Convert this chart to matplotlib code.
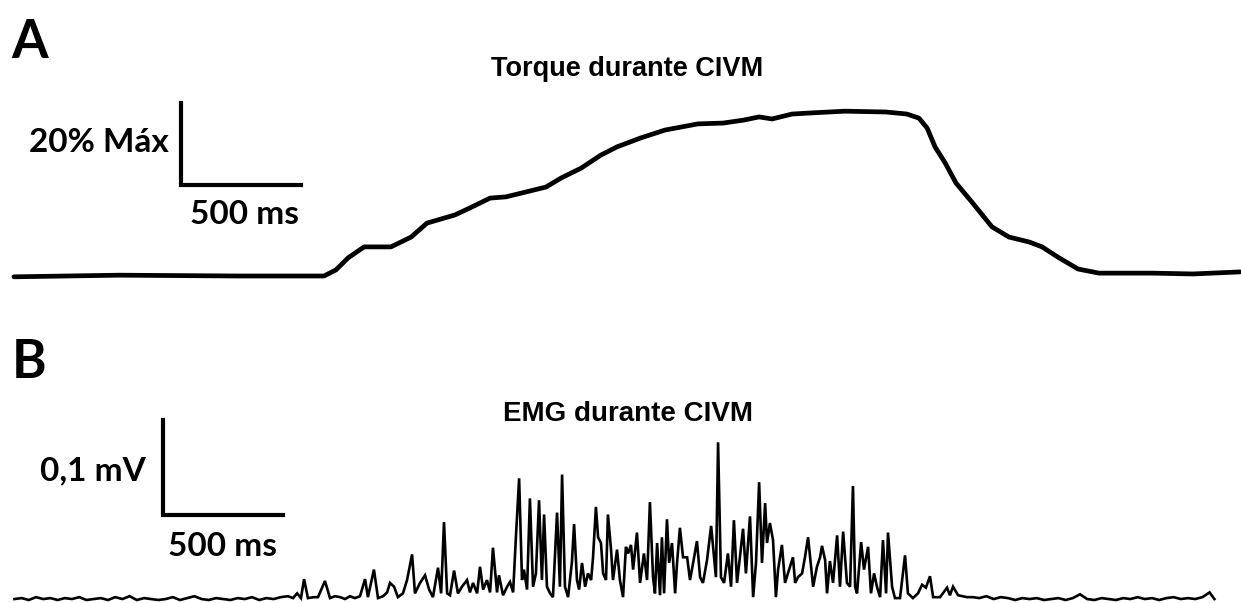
"""Torque and EMG traces during a maximal isometric contraction (CIVM)."""

import matplotlib
matplotlib.use("Agg")
import matplotlib.pyplot as plt

W, H = 1241, 603
MS_PER_PX = 500 / 120          # 500 ms scale bar spans 120 px
PCT_PER_PX = 20 / 82           # 20 % scale bar spans 82 px
UV_PER_PX = 100 / 95           # 0,1 mV scale bar spans 95 px

# torque trace (ms, % of max)
torque_t = [58, 496, 988, 1350, 1400, 1450, 1517, 1629, 1713, 1779, 1896, 1958,
            2042, 2108, 2192, 2275, 2338, 2421, 2504, 2571, 2671, 2771, 2908,
            3013, 3096, 3163, 3217, 3300, 3388, 3521, 3692, 3779, 3829, 3863,
            3896, 3938, 3983, 4050, 4133, 4204, 4288, 4342, 4408, 4492, 4579,
            4800, 4971, 5167]
torque_pct = [-0.2, 0.2, 0.0, 0.0, 1.5, 4.4, 7.1, 7.1, 9.5, 12.9, 14.9, 16.6,
              19.0, 19.3, 20.5, 21.7, 23.9, 26.3, 29.5, 31.5, 33.7, 35.6, 37.1,
              37.3, 38.0, 38.8, 38.3, 39.5, 39.8, 40.2, 40.0, 39.5, 38.5, 36.1,
              31.5, 27.6, 22.7, 18.0, 12.0, 9.5, 8.3, 7.1, 4.6, 1.7, 0.7,
              0.7, 0.5, 1.0]

# EMG trace (ms, microvolts)
emg_rest_pre_t = [60, 90, 120, 150, 180, 210, 240, 270, 300, 330, 360, 390, 420,
                  450, 480, 510, 540, 570, 600, 630, 660, 690, 720, 750, 780,
                  810, 840, 870, 900, 930, 960, 990, 1020, 1050, 1080, 1110,
                  1140, 1170, 1200]
emg_rest_pre_uv = [1, 2, 0, 3, 1, 2, 0, 2, 1, 3, 0, 1, 2, 0, 3, 1, 4, 0, 2, 1,
                   0, 1, 3, 0, 2, 4, 1, 0, 2, 1, 0, 2, 1, 3, 0, 2, 1, 3, 4]

emg_active_t = [1221, 1238, 1254, 1267, 1283, 1308, 1325, 1354, 1375, 1396, 1417,
                1438, 1458, 1479, 1500, 1521, 1533, 1558, 1575, 1596, 1613, 1625,
                1642, 1658, 1679, 1696, 1717, 1729, 1750, 1771, 1788, 1804, 1825,
                1838, 1850, 1863, 1875, 1892, 1908, 1925, 1946, 1958, 1971, 1988,
                2000, 2013, 2029, 2042, 2054, 2071, 2079, 2096, 2113, 2125, 2138,
                2150, 2163, 2175, 2183, 2196, 2208, 2221, 2233, 2246, 2258, 2267,
                2279, 2292, 2304, 2321, 2333, 2342, 2354, 2367, 2383, 2392, 2404,
                2413, 2425, 2438, 2450, 2463, 2471, 2483, 2492, 2504, 2513, 2525,
                2533, 2546, 2554, 2571, 2583, 2596, 2608, 2617, 2629, 2638, 2654,
                2667, 2683, 2696, 2708, 2721, 2729, 2738, 2750, 2758, 2767, 2779,
                2788, 2800, 2813, 2821, 2833, 2846, 2863, 2875, 2888, 2904, 2917,
                2929, 2946, 2963, 2971, 2983, 2992, 3004, 3017, 3033, 3046, 3058,
                3071, 3083, 3096, 3108, 3125, 3138, 3150, 3163, 3175, 3188, 3196,
                3208, 3221, 3233, 3242, 3258, 3271, 3283, 3304, 3313, 3325, 3342,
                3354, 3367, 3388, 3404, 3417, 3425, 3438, 3446, 3458, 3471, 3488,
                3500, 3513, 3529, 3542, 3554, 3563, 3571, 3588, 3600, 3617, 3629,
                3642, 3654, 3667, 3679, 3692, 3700, 3717, 3729, 3750, 3771, 3783,
                3804, 3825, 3842, 3858, 3875, 3888, 3917, 3946, 3958, 3971, 3992,
                4029, 4054]
emg_active_uv = [2, 7, 2, 22, 2, 3, 3, 20, 2, 4, 3,
                 1, 4, 2, 4, 22, 3, 32, 2, 4, 8, 18,
                 14, 3, 7, 21, 48, 7, 18, 26, 11, 3, 34,
                 7, 82, 7, 5, 31, 7, 14, 21, 8, 18, 7,
                 35, 11, 21, 8, 55, 8, 26, 5, 14, 19, 8,
                 68, 128, 21, 32, 11, 107, 14, 28, 105, 21, 90,
                 14, 7, 3, 92, 14, 132, 14, 3, 40, 80, 21,
                 11, 39, 14, 28, 21, 45, 98, 66, 60, 28, 21,
                 90, 53, 21, 53, 21, 3, 56, 49, 58, 32, 71,
                 18, 49, 21, 103, 24, 7, 60, 5, 66, 7, 85,
                 39, 60, 7, 39, 76, 45, 45, 21, 39, 62, 24,
                 18, 42, 78, 56, 24, 166, 24, 18, 49, 14, 84,
                 18, 45, 75, 28, 88, 3, 39, 124, 39, 102, 60,
                 81, 63, 3, 32, 58, 18, 28, 45, 18, 24, 28,
                 45, 66, 14, 35, 45, 57, 42, 7, 41, 18, 68,
                 14, 72, 18, 14, 120, 14, 7, 61, 32, 56, 7,
                 28, 14, 3, 63, 7, 71, 14, 2, 2, 47, 7,
                 2, 7, 16, 13, 25, 3, 3, 13, 5, 14, 5,
                 3, 3]

emg_rest_post_t = [4080, 4110, 4140, 4170, 4200, 4230, 4260, 4290, 4320, 4350,
                   4380, 4410, 4440, 4470, 4500, 4530, 4560, 4590, 4620, 4650,
                   4680, 4710, 4740, 4770, 4800, 4830, 4860, 4890, 4920, 4950,
                   4980, 5010, 5040, 5060]
emg_rest_post_uv = [2, 4, 1, 3, 2, 0, 2, 1, 2, 0, 1, 2, 0, 2, 6, 1, 0, 2, 1, 0,
                    2, 1, 3, 1, 2, 0, 2, 3, 1, 2, 1, 3, 8, 1]

emg_t = emg_rest_pre_t + emg_active_t + emg_rest_post_t
emg_uv = emg_rest_pre_uv + emg_active_uv + emg_rest_post_uv

LABEL_FONT = ["Lato", "DejaVu Sans"]
TITLE_FONT = ["Liberation Sans", "DejaVu Sans"]


def fx(px):
    return px / W


def fy(py):
    return 1 - py / H


fig = plt.figure(figsize=(W / 100, H / 100), dpi=100)
fig.patch.set_facecolor("white")

# panel A: torque, baseline sits at 276 px from the top
ax_a = fig.add_axes([0, 0, 1, 1])
ax_a.set_xlim(0, W * MS_PER_PX)
ax_a.set_ylim(-(H - 276) * PCT_PER_PX, 276 * PCT_PER_PX)
ax_a.axis("off")
ax_a.plot(torque_t, torque_pct, color="black", lw=3.4,
          solid_joinstyle="round", solid_capstyle="round")
bar_a = (181 * MS_PER_PX, (276 - 185) * PCT_PER_PX)
ax_a.plot([bar_a[0], bar_a[0], bar_a[0] + 500], [bar_a[1] + 20, bar_a[1], bar_a[1]],
          color="black", lw=3.0, solid_joinstyle="miter")

# panel B: EMG, baseline sits at 600 px from the top
ax_b = fig.add_axes([0, 0, 1, 1])
ax_b.patch.set_alpha(0)
ax_b.set_xlim(0, W * MS_PER_PX)
ax_b.set_ylim(-(H - 600) * UV_PER_PX, 600 * UV_PER_PX)
ax_b.axis("off")
ax_b.plot(emg_t, emg_uv, color="black", lw=1.9, solid_joinstyle="miter")
bar_b = (163 * MS_PER_PX, (600 - 515) * UV_PER_PX)
ax_b.plot([bar_b[0], bar_b[0], bar_b[0] + 500], [bar_b[1] + 100, bar_b[1], bar_b[1]],
          color="black", lw=3.0, solid_joinstyle="miter")

# labels
fig.text(fx(30), fy(43), "A", fontsize=38, fontweight="bold", family=LABEL_FONT,
         ha="center", va="center")
fig.text(fx(29), fy(362), "B", fontsize=38, fontweight="bold", family=LABEL_FONT,
         ha="center", va="center")
fig.text(fx(627), fy(69), "Torque durante CIVM", fontsize=19.5, fontweight="bold",
         family=TITLE_FONT, ha="center", va="center")
fig.text(fx(628), fy(414), "EMG durante CIVM", fontsize=20, fontweight="bold",
         family=TITLE_FONT, ha="center", va="center")
fig.text(fx(99), fy(142), "20% Máx", fontsize=24, fontweight="bold",
         family=LABEL_FONT, ha="center", va="center")
fig.text(fx(244), fy(215), "500 ms", fontsize=24, fontweight="bold",
         family=LABEL_FONT, ha="center", va="center")
fig.text(fx(93), fy(471), "0,1 mV", fontsize=24, fontweight="bold",
         family=LABEL_FONT, ha="center", va="center")
fig.text(fx(222), fy(547), "500 ms", fontsize=24, fontweight="bold",
         family=LABEL_FONT, ha="center", va="center")

fig.savefig("out.png", dpi=100)
plt.close(fig)
